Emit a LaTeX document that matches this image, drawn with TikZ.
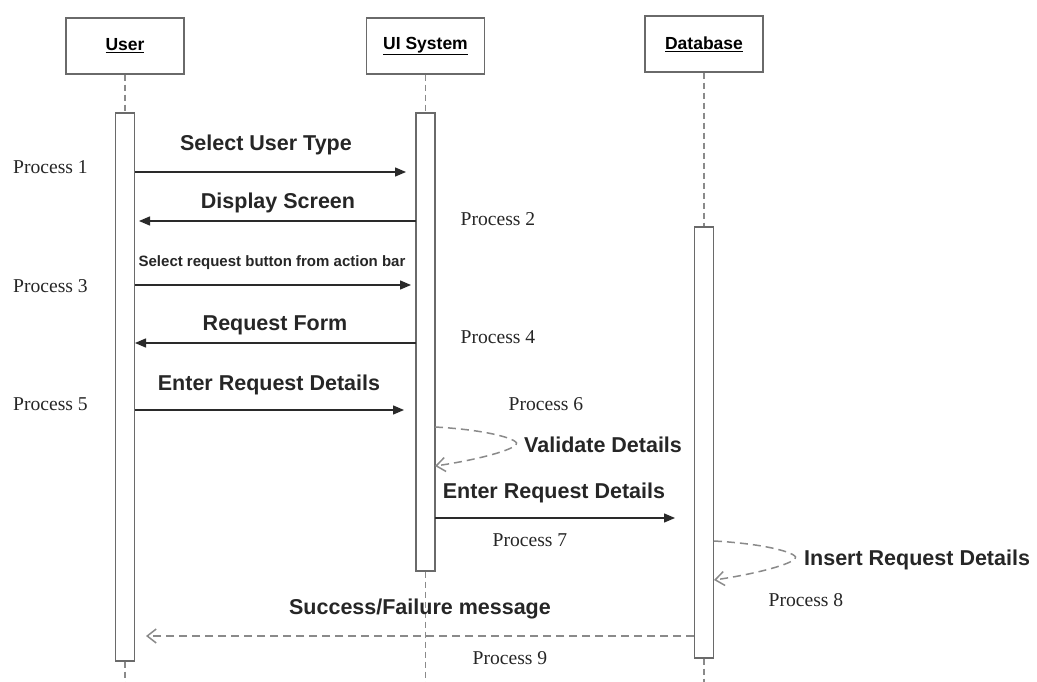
\documentclass[tikz,border=0pt]{standalone}
\usepackage{fontspec}
\setmainfont{Liberation Serif}
\newfontfamily\arialf{Liberation Sans}
\usetikzlibrary{arrows.meta}
\definecolor{boxc}{HTML}{6A6A6A}
\definecolor{linec}{HTML}{8A8A8A}
\definecolor{arrc}{HTML}{2A2A2A}
\tikzset{
  head/.style={draw=boxc, line width=1.3pt, fill=white, minimum width=118pt, minimum height=56pt, inner sep=0pt,
    font=\arialf\bfseries\fontsize{17.5}{19}\selectfont},
  actbar/.style={draw=boxc, line width=1.3pt, fill=white, minimum width=19pt, inner sep=0pt},
  lifeline/.style={draw=linec, line width=1.6pt, dash pattern=on 6pt off 4pt},
  msg/.style={draw=arrc, line width=1.3pt, -{Triangle[length=11pt,width=9pt]}},
  ret/.style={draw=linec, line width=1.5pt, dash pattern=on 8pt off 5pt, -{Straight Barb[length=9pt,width=14pt]}},
  mlabel/.style={font=\arialf\bfseries\fontsize{21.5}{24}\selectfont, text=black!85, inner sep=0pt},
  slabel/.style={font=\arialf\bfseries\fontsize{15}{17}\selectfont, text=black!85, inner sep=0pt},
  plabel/.style={font=\fontsize{19.6}{21}\selectfont, text=black!85, inner sep=0pt},
}
\begin{document}
\begin{tikzpicture}[x=1pt,y=-1pt]
\useasboundingbox (0,0) rectangle (1037,682);
\coordinate (uend) at (125,682);
\coordinate (iend) at (425.5,682);
\coordinate (dend) at (704,682);
% heads
\node[head] (user) at (125,46) {\underline{User}};
\node[head] (ui) at (425.5,46) {\underline{UI System}};
\node[head] (db) at (704,44) {\underline{Database}};
% activation bars
\node[actbar, minimum height=548pt] (ubar) at (125,387) {};
\node[actbar, minimum height=458pt] (ibar) at (425.5,342) {};
\node[actbar, minimum height=431pt] (dbar) at (704,442.5) {};
\draw[lifeline] (user.south) -- (ubar.north);
\draw[lifeline] (ui.south) -- (ibar.north);
\draw[lifeline] (db.south) -- (dbar.north);
\draw[lifeline] (ubar.south) -- (uend);
\draw[lifeline] (ibar.south) -- (iend);
\draw[lifeline] (dbar.south) -- (dend);
% message endpoints
\coordinate (m1s) at (135,172); \coordinate (m1e) at (406,172);
\coordinate (m2s) at (416,221); \coordinate (m2e) at (139,221);
\coordinate (m3s) at (135,285); \coordinate (m3e) at (411,285);
\coordinate (m4s) at (416,343); \coordinate (m4e) at (135,343);
\coordinate (m5s) at (135,410); \coordinate (m5e) at (404,410);
\coordinate (l6s) at (435,427); \coordinate (l6e) at (435,466);
\coordinate (m7s) at (435,518); \coordinate (m7e) at (675,518);
\coordinate (l8s) at (714,541); \coordinate (l8e) at (714,580);
\coordinate (m9s) at (694,636); \coordinate (m9e) at (146,636);
% messages
\draw[msg] (m1s) -- (m1e);
\draw[msg] (m2s) -- (m2e);
\draw[msg] (m3s) -- (m3e);
\draw[msg] (m4s) -- (m4e);
\draw[msg] (m5s) -- (m5e);
\draw[ret] (l6s) .. controls (490,430) and (522,440) .. (516,445) .. controls (508,452) and (470,461) .. (l6e);
\draw[msg] (m7s) -- (m7e);
\draw[ret] (l8s) .. controls (769,544) and (801,554) .. (795,559) .. controls (787,566) and (749,575) .. (l8e);
\draw[ret] (m9s) -- (m9e);
% labels
\node[mlabel] (t1) at (266,145) {Select User Type};
\node[mlabel] (t2) at (278,203) {Display Screen};
\node[slabel] (t3) at (272,263) {Select request button from action bar};
\node[mlabel] (t4) at (275,325) {Request Form};
\node[mlabel] (t5) at (269,385) {Enter Request Details};
\node[mlabel, anchor=west] (t6) at (524,445) {Validate Details};
\node[mlabel] (t7) at (554,493) {Enter Request Details};
\node[mlabel, anchor=west] (t8) at (804,560) {Insert Request Details};
\node[mlabel] (t9) at (420,609) {Success/Failure message};
% process labels
\node[plabel] (p1) at (50.5,167) {Process 1};
\node[plabel] (p2) at (498,219) {Process 2};
\node[plabel] (p3) at (50.5,286) {Process 3};
\node[plabel] (p4) at (498,337) {Process 4};
\node[plabel] (p5) at (50.5,404) {Process 5};
\node[plabel] (p6) at (546,404) {Process 6};
\node[plabel] (p7) at (530,540) {Process 7};
\node[plabel] (p8) at (806,600) {Process 8};
\node[plabel] (p9) at (510,658) {Process 9};
\end{tikzpicture}
\end{document}
